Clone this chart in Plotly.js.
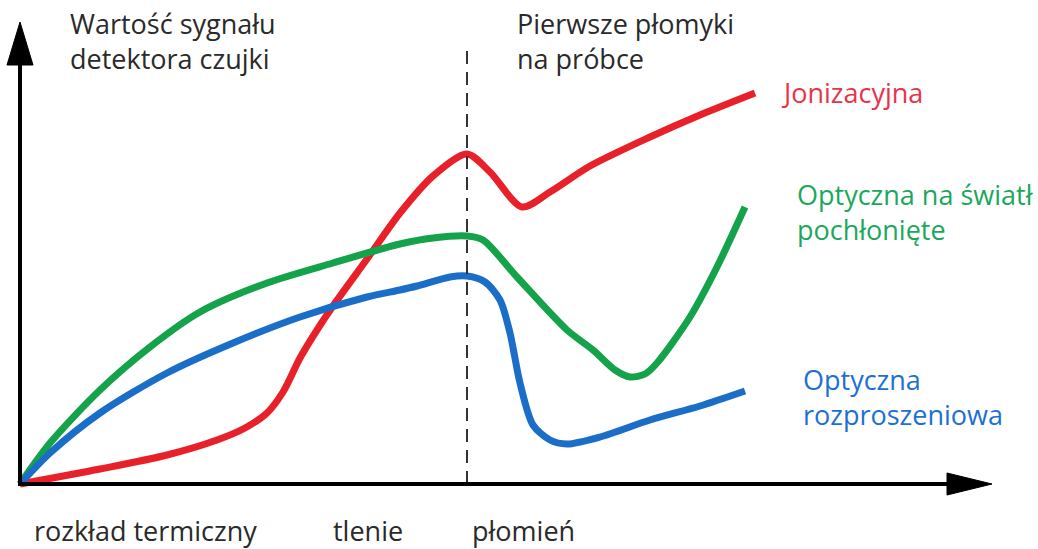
<!DOCTYPE html>
<html>
<head>
<meta charset="utf-8">
<script src="https://cdn.plot.ly/plotly-3.0.1.min.js"></script>
<style>html,body{margin:0;padding:0;background:#fff;}#chart{width:1038px;height:549px;}</style>
</head>
<body>
<div id="chart"></div>
<script>
// Values in arbitrary signal units (x: time from start, y: detector signal)
const jonX = [0, 80, 147, 197, 225, 247, 263, 280, 297, 313, 347, 380, 413, 447, 470, 502, 530, 570, 630, 680, 735];
const jonY = [0, 15, 29, 44, 56, 71, 92, 126, 154, 178, 225, 271, 308, 330, 312, 277, 292, 318, 347, 369, 391];

const pochX = [0, 30, 80, 130, 180, 247, 313, 380, 413, 447, 463, 497, 547, 573, 595, 610, 625, 637, 670, 697, 725];
const pochY = [0, 41, 94, 137, 172, 201, 221, 240, 246, 248, 244, 207, 154, 134, 114, 107, 110, 121, 167, 217, 277];

const rozX = [0, 30, 80, 147, 213, 280, 347, 380, 397, 430, 447, 465, 480, 490, 500, 513, 530, 547, 580, 630, 680, 725];
const rozY = [0, 31, 71, 111, 141, 167, 187, 194, 198, 207, 208, 202, 184, 151, 101, 59, 44, 40, 47, 64, 78, 93];

const flameX = 447;      // first flames on sample
const dashTop = 439;

const seriesNames = ['Jonizacyjna', 'Optyczna na światło pochłonięte', 'Optyczna rozproszeniowa'];
const phaseLabels = ['rozkład termiczny', 'tlenie', 'płomień'];
const phaseX = [12, 311, 450];

const FONT = 'Open Sans, sans-serif';
const RED = '#e8202a', GREEN = '#14a24a', BLUE = '#1a6ec8';

const traces = [
  {x: jonX, y: jonY, name: seriesNames[0], mode: 'lines', line: {color: RED, width: 7, shape: 'spline', smoothing: 0.8}},
  {x: pochX, y: pochY, name: seriesNames[1], mode: 'lines', line: {color: GREEN, width: 7, shape: 'spline', smoothing: 0.8}},
  {x: rozX, y: rozY, name: seriesNames[2], mode: 'lines', line: {color: BLUE, width: 7, shape: 'spline', smoothing: 0.8}}
];

const ann = (text, x, y, color) => ({
  text: text, x: x, y: y, xref: 'x', yref: 'y', showarrow: false,
  xanchor: 'left', yanchor: 'middle', align: 'left',
  font: {family: FONT, size: 27, color: color}
});

const annotations = [
  ann('Wartość sygnału<br>detektora czujki', 48, 443, '#2a2a2a'),
  ann('Pierwsze płomyki<br>na próbce', 495, 443, '#2a2a2a'),
  ann('Jonizacyjna', 759, 392, '#e83448'),
  ann('Optyczna na światł<br>pochłonięte', 775, 272, '#1ba85c'),
  ann('Optyczna<br>rozproszeniowa', 781, 87, '#1d70d2')
];
phaseLabels.forEach((t, i) => annotations.push(ann(t, phaseX[i], -46, '#2a2a2a')));

const shapes = [
  {type: 'line', xref: 'x', yref: 'y', x0: flameX, x1: flameX, y0: 0, y1: dashTop,
   line: {color: '#333333', width: 2, dash: '13px,8px'}},
  {type: 'line', xref: 'x', yref: 'y', x0: 0, x1: 0, y0: -2, y1: 425, line: {color: '#000', width: 4}},
  {type: 'path', xref: 'x', yref: 'y', path: 'M -13 419 L 13 419 L 0 462 Z', fillcolor: '#000', line: {color: '#000', width: 1}},
  {type: 'line', xref: 'x', yref: 'y', x0: -2, x1: 932, y0: 0, y1: 0, line: {color: '#000', width: 4}},
  {type: 'path', xref: 'x', yref: 'y', path: 'M 927 11 L 927 -11 L 972 0 Z', fillcolor: '#000', line: {color: '#000', width: 1}}
];

const layout = {
  width: 1038, height: 549,
  margin: {l: 0, r: 0, t: 0, b: 0},
  paper_bgcolor: '#fff', plot_bgcolor: '#fff',
  showlegend: false,
  xaxis: {range: [-20, 1018], visible: false, fixedrange: true},
  yaxis: {range: [-65, 484], visible: false, fixedrange: true},
  annotations: annotations,
  shapes: shapes
};

Plotly.newPlot('chart', traces, layout, {displayModeBar: false, staticPlot: true});
</script>
</body>
</html>
